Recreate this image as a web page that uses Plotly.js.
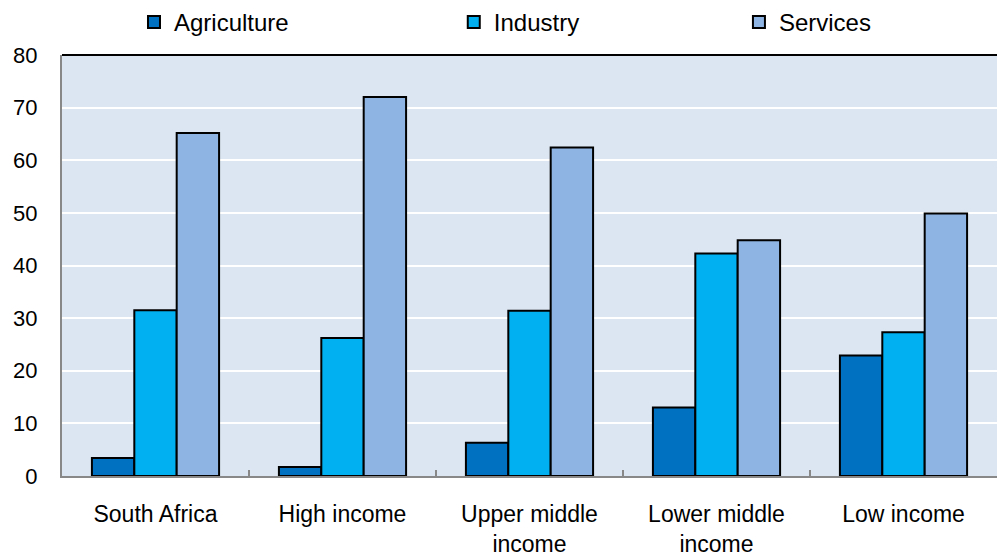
<!DOCTYPE html>
<html><head><meta charset="utf-8">
<script src="https://cdn.plot.ly/plotly-3.0.1.min.js"></script>
<style>body{margin:0;background:#fff}#chart{width:998px;height:557px}</style>
</head><body><div id="chart"></div>
<script>
const categories = ["South Africa", "High income", "Upper middle<br>income", "Lower middle<br>income", "Low income"];
const agriculture = [3.4, 1.7, 6.3, 13.0, 22.9];
const industry = [31.5, 26.2, 31.4, 42.3, 27.3];
const services = [65.2, 72.0, 62.4, 44.8, 49.9];
const yTicks = [0, 10, 20, 30, 40, 50, 60, 70, 80];

const lineStyle = {color: "#000", width: 2};
const traces = [
  {type: "bar", name: "Agriculture", x: categories, y: agriculture, marker: {color: "#0070C0", line: lineStyle}, legend: "legend"},
  {type: "bar", name: "Industry", x: categories, y: industry, marker: {color: "#00B0F0", line: lineStyle}, legend: "legend2"},
  {type: "bar", name: "Services", x: categories, y: services, marker: {color: "#8EB4E3", line: lineStyle}, legend: "legend3"}
];
const fam = "Liberation Sans, Arial, sans-serif";
const legFont = {family: fam, size: 24, color: "#000"};
const legBase = {orientation: "h", yanchor: "middle", y: 1.075, xanchor: "left", font: legFont, itemwidth: 30, bgcolor: "rgba(0,0,0,0)", tracegroupgap: 0};
const layout = {
  width: 998, height: 557,
  margin: {l: 62, r: 1, t: 54, b: 81},
  paper_bgcolor: "#fff",
  plot_bgcolor: "#DCE6F2",
  barmode: "group",
  bargap: 0.32,
  bargroupgap: 0,
  font: {family: fam, size: 22, color: "#000"},
  xaxis: {
    type: "category",
    showline: true, linecolor: "#888", linewidth: 2,
    ticks: "inside", tickson: "boundaries", ticklen: 6, tickcolor: "#888", tickwidth: 2,
    showgrid: false, tickfont: {size: 23}, ticklabelstandoff: 16
  },
  yaxis: {
    range: [0, 80], tickvals: yTicks, ticktext: yTicks.map(String),
    showline: true, linecolor: "#888", linewidth: 2,
    showgrid: true, gridcolor: "#fff", gridwidth: 2, zeroline: false,
    ticks: "", tickfont: {size: 22}, ticklabelstandoff: 18
  },
  shapes: [{type: "line", xref: "paper", yref: "paper", x0: 0, x1: 1, y0: 1, y1: 1, line: {color: "#000", width: 2}}],
  showlegend: true,
  legend: Object.assign({}, legBase, {x: 0.077}),
  legend2: Object.assign({}, legBase, {x: 0.419}),
  legend3: Object.assign({}, legBase, {x: 0.724})
};
Plotly.newPlot("chart", traces, layout, {displayModeBar: false, staticPlot: true});
</script></body></html>
